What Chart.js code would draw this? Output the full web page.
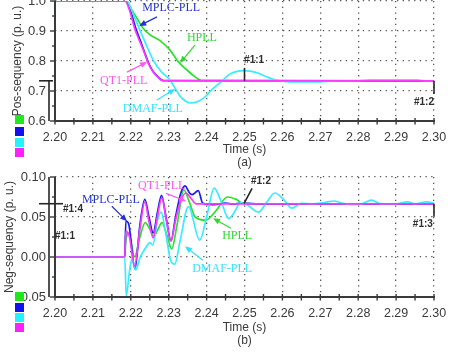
<!DOCTYPE html>
<html>
<head>
<meta charset="utf-8">
<script src="https://cdn.jsdelivr.net/npm/chart.js@4/dist/chart.umd.min.js"></script>
<style>
  html, body { margin: 0; padding: 0; background: #fff; width: 462px; height: 352px; overflow: hidden; }
  .wrap { position: absolute; left: 0; width: 462px; height: 196px; }
  #wrapPos { top: -20px; }
  #wrapNeg { top: 156px; }
</style>
</head>
<body>
<div class="wrap" id="wrapPos"><canvas id="posChart" width="462" height="196"></canvas></div>
<div class="wrap" id="wrapNeg"><canvas id="negChart" width="462" height="196"></canvas></div>
<script>
// ---- axis ticks ----
const timeTicks = [2.20, 2.21, 2.22, 2.23, 2.24, 2.25, 2.26, 2.27, 2.28, 2.29, 2.30];
const timeTickLabels = ['2.20', '2.21', '2.22', '2.23', '2.24', '2.25', '2.26', '2.27', '2.28', '2.29', '2.30'];
const posTicks = [0.6, 0.7, 0.8, 0.9, 1.0];
const posTickLabels = ['0.6', '0.7', '0.8', '0.9', '1.0'];
const negTicks = [-0.05, 0.00, 0.05, 0.10];
const negTickLabels = ['-0.05', '0.00', '0.05', '0.10'];

const seriesNames = ['HPLL', 'MPLC-PLL', 'DMAF-PLL', 'QT1-PLL'];

// ---- (a) positive-sequency magnitude ----
const posHpllT = [2.2000, 2.2188, 2.2200, 2.2215, 2.2232, 2.2251, 2.2277, 2.2303, 2.2325, 2.2348, 2.2369, 2.2387, 2.3000];
const posHpllV = [1.000, 1.000, 0.975, 0.945, 0.910, 0.887, 0.868, 0.837, 0.798, 0.770, 0.748, 0.735, 0.734];

const posMplcT = [2.2000, 2.2188, 2.2198, 2.2213, 2.2224, 2.2236, 2.2248, 2.2259, 2.2271, 2.2286, 2.3000];
const posMplcV = [1.000, 1.000, 0.972, 0.910, 0.872, 0.830, 0.790, 0.765, 0.748, 0.735, 0.734];

const posDmafT = [2.2000, 2.2190, 2.2200, 2.2212, 2.2224, 2.2241, 2.2259, 2.2280, 2.2303, 2.2330, 2.2346, 2.2356, 2.2380, 2.2400, 2.2410, 2.2435, 2.2464, 2.2500, 2.2530, 2.2555, 2.2580, 2.2600, 2.2630, 2.2665, 2.2700, 2.2725, 2.2760, 2.2800, 2.2830, 2.2900, 2.2955, 2.2975, 2.3000];
const posDmafV = [1.000, 1.000, 0.975, 0.940, 0.903, 0.853, 0.803, 0.765, 0.737, 0.683, 0.665, 0.660, 0.667, 0.685, 0.700, 0.727, 0.758, 0.768, 0.762, 0.749, 0.737, 0.733, 0.730, 0.730, 0.730, 0.733, 0.734, 0.734, 0.737, 0.737, 0.737, 0.734, 0.734];

const posQt1T = [2.2000, 2.2185, 2.2195, 2.2211, 2.2222, 2.2235, 2.2247, 2.2258, 2.2270, 2.2285, 2.3000];
const posQt1V = [1.000, 1.000, 0.975, 0.905, 0.870, 0.830, 0.790, 0.765, 0.748, 0.734, 0.734];

// ---- (b) negative-sequency magnitude ----
const negHpllT = [2.2000, 2.2184, 2.2187, 2.2195, 2.2210, 2.2224, 2.2238, 2.2250, 2.2261, 2.2272, 2.2282, 2.2295, 2.2308, 2.2322, 2.2340, 2.2355, 2.2370, 2.2398, 2.2425, 2.2455, 2.2478, 2.2500, 2.2530, 2.3000];
const negHpllV = [0, 0, 0.020, 0.030, 0.000, 0.025, 0.043, 0.035, 0.026, 0.035, 0.043, 0.028, 0.010, 0.040, 0.084, 0.068, 0.050, 0.046, 0.058, 0.075, 0.072, 0.066, 0.0665, 0.0665];

const negMplcT = [2.2000, 2.2184, 2.2187, 2.2194, 2.2211, 2.2224, 2.2237, 2.2248, 2.2259, 2.2270, 2.2281, 2.2293, 2.2306, 2.2318, 2.2332, 2.2343, 2.2355, 2.2362, 2.2378, 2.2390, 2.2420, 2.2450, 2.2470, 2.2490, 2.2530, 2.2560, 2.3000];
const negMplcV = [0, 0, 0.045, 0.042, -0.015, 0.040, 0.072, 0.050, 0.030, 0.055, 0.077, 0.050, 0.020, 0.050, 0.080, 0.089, 0.080, 0.078, 0.083, 0.067, 0.0655, 0.0675, 0.066, 0.0675, 0.0665, 0.0665, 0.0665];

const negDmafT = [2.2000, 2.2184, 2.2188, 2.2196, 2.2203, 2.2213, 2.2225, 2.2240, 2.2250, 2.2258, 2.2270, 2.2280, 2.2292, 2.2305, 2.2316, 2.2330, 2.2352, 2.2382, 2.2400, 2.2420, 2.2438, 2.2458, 2.2472, 2.2490, 2.2510, 2.2537, 2.2558, 2.2580, 2.2603, 2.2625, 2.2650, 2.2680, 2.2710, 2.2735, 2.2760, 2.2785, 2.2810, 2.2835, 2.2860, 2.2900, 2.2930, 2.2950, 2.2980, 2.3000];
const negDmafV = [0, 0, -0.049, -0.020, -0.002, -0.016, 0.000, 0.012, 0.018, 0.015, 0.045, 0.056, 0.030, -0.004, -0.009, 0.020, 0.063, 0.021, 0.050, 0.086, 0.070, 0.048, 0.055, 0.068, 0.064, 0.056, 0.068, 0.080, 0.072, 0.061, 0.067, 0.0665, 0.068, 0.070, 0.067, 0.0655, 0.0665, 0.071, 0.0665, 0.0665, 0.069, 0.0665, 0.069, 0.0675];

const negQt1T = [2.2000, 2.2184, 2.2187, 2.2196, 2.2210, 2.2224, 2.2237, 2.2248, 2.2259, 2.2270, 2.2282, 2.2294, 2.2306, 2.2318, 2.2330, 2.2345, 2.2358, 2.2372, 2.2400, 2.3000];
const negQt1V = [0, 0, 0.032, 0.026, -0.011, 0.035, 0.069, 0.044, 0.024, 0.050, 0.074, 0.045, 0.020, 0.046, 0.068, 0.080, 0.074, 0.0665, 0.0665, 0.0665];

// ---- styling ----
const lineColors = { HPLL: '#2ee02e', 'MPLC-PLL': '#1c1cee', 'DMAF-PLL': '#38ecff', 'QT1-PLL': '#ff38ff' };
const labelColors = { HPLL: '#2ed82e', 'MPLC-PLL': '#2233d0', 'DMAF-PLL': '#30e2ff', 'QT1-PLL': '#ff55f5' };
const swatchColors = ['#1fe81f', '#1010f0', '#20f4ff', '#ff20ff'];
const axisInk = '#3a3a3a';
const sansFont = "'Liberation Sans', Arial, sans-serif";
const serifFont = "'Liberation Serif', 'Times New Roman', serif";

function pairs(ts, vs) { return ts.map((t, i) => ({ x: t, y: vs[i] })); }

function lineSet(name, ts, vs) {
  return {
    label: name,
    data: pairs(ts, vs),
    borderColor: lineColors[name],
    borderWidth: 1.7,
    pointRadius: 0,
    fill: false,
    cubicInterpolationMode: 'monotone'
  };
}

function drawArrow(ctx, x1, y1, x2, y2, color) {
  const ang = Math.atan2(y2 - y1, x2 - x1);
  const L = 7, W = 3;
  ctx.strokeStyle = color; ctx.fillStyle = color; ctx.lineWidth = 1.2;
  ctx.beginPath();
  ctx.moveTo(x1, y1);
  ctx.lineTo(x2 - L * 0.8 * Math.cos(ang), y2 - L * 0.8 * Math.sin(ang));
  ctx.stroke();
  ctx.beginPath();
  ctx.moveTo(x2, y2);
  ctx.lineTo(x2 - L * Math.cos(ang) + W * Math.sin(ang), y2 - L * Math.sin(ang) - W * Math.cos(ang));
  ctx.lineTo(x2 - L * Math.cos(ang) - W * Math.sin(ang), y2 - L * Math.sin(ang) + W * Math.cos(ang));
  ctx.closePath();
  ctx.fill();
}

// axes, tick marks, cursors, callouts and colour swatches
const decorPlugin = {
  id: 'decor',
  afterDraw(chart, args, o) {
    const { ctx, chartArea: a, scales: { x, y } } = chart;
    const X = t => x.getPixelForValue(t);
    const Y = v => y.getPixelForValue(v);
    ctx.save();

    // axis lines
    ctx.strokeStyle = axisInk; ctx.lineWidth = 2;
    ctx.beginPath(); ctx.moveTo(a.left - 1, a.bottom); ctx.lineTo(a.right + 1, a.bottom); ctx.stroke();
    ctx.beginPath(); ctx.moveTo(a.left, a.top); ctx.lineTo(a.left, a.bottom + 1); ctx.stroke();

    // x tick marks every half division
    ctx.lineWidth = 1.4;
    const nX = Math.round((x.max - x.min) / 0.005);
    for (let i = 0; i <= nX; i++) {
      const px = X(x.min + i * 0.005);
      ctx.beginPath(); ctx.moveTo(px, a.bottom - 3); ctx.lineTo(px, a.bottom + 3.5); ctx.stroke();
    }
    // y tick marks
    const nY = Math.round((y.max - y.min) / o.yMinor);
    for (let i = 0; i <= nY; i++) {
      const py = Y(y.min + i * o.yMinor);
      const len = (i % 2 === 0) ? 5 : 3;
      ctx.beginPath(); ctx.moveTo(a.left - len, py); ctx.lineTo(a.left, py); ctx.stroke();
    }

    // cursor lines
    ctx.strokeStyle = '#262626'; ctx.lineWidth = 1.6;
    (o.cursorLines || []).forEach(l => {
      ctx.beginPath(); ctx.moveTo(X(l[0]), Y(l[1])); ctx.lineTo(X(l[2]), Y(l[3])); ctx.stroke();
    });
    if (o.leftCursor) {
      const lc = o.leftCursor;
      ctx.beginPath(); ctx.moveTo(a.left - 16, Y(lc.level)); ctx.lineTo(a.left + lc.reach, Y(lc.level)); ctx.stroke();
      ctx.beginPath(); ctx.moveTo(a.left - 6, Y(lc.from)); ctx.lineTo(a.left - 6, Y(lc.to)); ctx.stroke();
    }
    ctx.font = 'bold 10px ' + sansFont;
    ctx.fillStyle = '#2e2e2e';
    ctx.textBaseline = 'middle';
    (o.cursorTexts || []).forEach(c => {
      ctx.textAlign = c.align;
      ctx.fillText(c.text, X(c.t), Y(c.v));
    });

    // series callouts
    ctx.font = '12px ' + serifFont;
    ctx.textAlign = 'left';
    (o.callouts || []).forEach(c => {
      const col = labelColors[c.name];
      ctx.fillStyle = col;
      ctx.fillText(c.name, X(c.t), Y(c.v));
      drawArrow(ctx, X(c.from[0]), Y(c.from[1]), X(c.to[0]), Y(c.to[1]), col);
    });

    // colour swatches on the left margin
    o.swatchRows.forEach((rowY, i) => {
      ctx.fillStyle = swatchColors[i];
      ctx.fillRect(15, rowY - o.pageTop, 9, 9);
    });
    ctx.restore();
  }
};

function makeChart(id, datasets, cfg) {
  return new Chart(document.getElementById(id), {
    type: 'line',
    data: { datasets },
    plugins: [decorPlugin],
    options: {
      responsive: false,
      animation: false,
      devicePixelRatio: 1,
      layout: { padding: { left: 0, right: 28, top: 21, bottom: 0 } },
      plugins: {
        legend: { display: false },
        tooltip: { enabled: false },
        decor: cfg.decor
      },
      scales: {
        x: {
          type: 'linear',
          min: 2.20, max: 2.30,
          afterBuildTicks: s => { s.ticks = timeTicks.map(v => ({ value: v })); },
          afterFit: s => { s.height = 55; },
          ticks: {
            padding: 9,
            color: axisInk,
            font: { family: sansFont, size: 12.5 },
            maxRotation: 0,
            autoSkip: false,
            callback: (v, i) => timeTickLabels[i]
          },
          grid: { color: '#555555', lineWidth: 1.3, drawTicks: false },
          border: { display: false, dash: [1.3, 4.4] },
          title: {
            display: true,
            text: ['Time (s)', cfg.tag],
            color: axisInk,
            font: { family: sansFont, size: 12, lineHeight: 1.15 },
            padding: { top: 0, bottom: cfg.tagPad }
          }
        },
        y: {
          type: 'linear',
          min: cfg.yMin, max: cfg.yMax,
          afterBuildTicks: s => { s.ticks = cfg.yTicks.map(v => ({ value: v })); },
          afterFit: s => { s.width = 55; },
          ticks: {
            padding: 9,
            color: axisInk,
            font: { family: sansFont, size: 13 },
            autoSkip: false,
            callback: (v, i) => cfg.yLabels[i]
          },
          grid: { color: '#555555', lineWidth: 1.3, drawTicks: false },
          border: { display: false, dash: [1.3, 4.4] },
          title: {
            display: true,
            text: cfg.yTitle,
            color: axisInk,
            font: { family: sansFont, size: 12, lineHeight: 1.15 },
            padding: { top: cfg.yTitlePad, bottom: 0 }
          }
        }
      }
    }
  });
}

// datasets listed top-most first
makeChart('posChart', [
  lineSet('QT1-PLL', posQt1T, posQt1V),
  lineSet('DMAF-PLL', posDmafT, posDmafV),
  lineSet('MPLC-PLL', posMplcT, posMplcV),
  lineSet('HPLL', posHpllT, posHpllV)
], {
  yMin: 0.6, yMax: 1.0, yTicks: posTicks, yLabels: posTickLabels,
  yTitle: 'Pos-sequency (p. u.)', yTitlePad: 11, tag: '(a)', tagPad: 6,
  decor: {
    pageTop: -20,
    yMinor: 0.05,
    swatchRows: [115, 127, 138, 148],
    cursorLines: [[2.25, 0.777, 2.25, 0.734], [2.30, 0.734, 2.30, 0.690]],
    leftCursor: { level: 0.734, reach: -2, from: 0.734, to: 0.6 },
    cursorTexts: [
      { text: '#1:1', t: 2.2499, v: 0.803, align: 'left' },
      { text: '#1:2', t: 2.3000, v: 0.663, align: 'right' }
    ],
    callouts: [
      { name: 'MPLC-PLL', t: 2.2230, v: 0.978, from: [2.2269, 0.947], to: [2.2222, 0.917] },
      { name: 'HPLL', t: 2.2348, v: 0.877, from: [2.2369, 0.853], to: [2.2330, 0.793] },
      { name: 'QT1-PLL', t: 2.2119, v: 0.733, from: [2.2190, 0.763], to: [2.2243, 0.797] },
      { name: 'DMAF-PLL', t: 2.2179, v: 0.640, from: [2.2269, 0.670], to: [2.2317, 0.707] }
    ]
  }
});

makeChart('negChart', [
  lineSet('QT1-PLL', negQt1T, negQt1V),
  lineSet('DMAF-PLL', negDmafT, negDmafV),
  lineSet('MPLC-PLL', negMplcT, negMplcV),
  lineSet('HPLL', negHpllT, negHpllV)
], {
  yMin: -0.05, yMax: 0.10, yTicks: negTicks, yLabels: negTickLabels,
  yTitle: 'Neg-sequency (p. u.)', yTitlePad: 3, tag: '(b)', tagPad: 4,
  decor: {
    pageTop: 156,
    yMinor: 0.025,
    swatchRows: [292, 303, 313, 323],
    cursorLines: [[2.2499, 0.0671, 2.2520, 0.0859], [2.30, 0.0666, 2.30, 0.0504]],
    leftCursor: { level: 0.0666, reach: 8, from: 0.10, to: -0.05 },
    cursorTexts: [
      { text: '#1:4', t: 2.2021, v: 0.0596, align: 'left' },
      { text: '#1:1', t: 2.2000, v: 0.0259, align: 'left' },
      { text: '#1:2', t: 2.2517, v: 0.0946, align: 'left' },
      { text: '#1:3', t: 2.2997, v: 0.0409, align: 'right' }
    ],
    callouts: [
      { name: 'MPLC-PLL', t: 2.2071, v: 0.0709, from: [2.2150, 0.0634], to: [2.2190, 0.0446] },
      { name: 'QT1-PLL', t: 2.2219, v: 0.0884, from: [2.2293, 0.0796], to: [2.2346, 0.0696] },
      { name: 'HPLL', t: 2.2441, v: 0.0259, from: [2.2464, 0.0359], to: [2.2417, 0.0484] },
      { name: 'DMAF-PLL', t: 2.2362, v: -0.0154, from: [2.2390, -0.0041], to: [2.2343, 0.0134] }
    ]
  }
});
</script>
</body>
</html>
